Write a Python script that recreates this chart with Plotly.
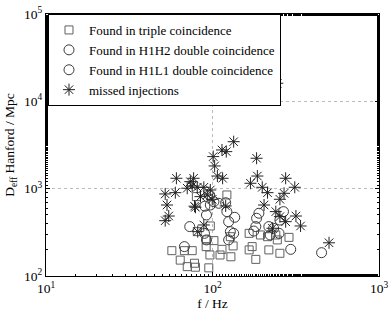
import plotly.graph_objects as go

# Found in triple coincidence (f [Hz], D_eff [Mpc])
triple_f = [57, 67.8, 75.5, 64, 70.5, 78, 79, 95, 96.5, 91.6, 102, 92, 114, 111, 129, 133, 128,
            97, 81, 122, 80, 166, 173, 166, 182, 194, 214, 218, 240, 245, 254, 288]
triple_d = [195, 195, 195, 152, 128, 140, 126, 124, 174, 217, 254, 259, 202, 174, 166, 221, 282,
            374, 322, 847, 811, 308, 217, 199, 155, 295, 282, 199, 295, 259, 182, 277]

# Found in H1H2 double coincidence
h1h2_f = [67.8, 73, 92, 97, 102, 96, 120, 125, 128, 125, 92, 190, 182, 218, 267, 251, 295]
h1h2_d = [217, 368, 500, 650, 710, 847, 690, 419, 322, 259, 259, 523, 368, 368, 546, 308, 202]

# Found in H1L1 double coincidence
h1l1_f = [90, 109, 122, 136, 134, 89.5, 184, 177, 233, 254, 222, 452]
h1l1_d = [630, 680, 546, 470, 308, 308, 458, 327, 352, 437, 295, 185]

# Missed injections
miss_f = [134, 114, 121, 101, 103, 107, 115, 184, 186, 169, 199, 214, 275, 312, 269, 254, 204,
          240, 254, 275, 317, 338, 229, 501, 60.7, 52, 59.8, 53.3, 54.6, 52, 73.6, 77, 75.5,
          70.5, 81, 88.7, 97, 93, 99.6, 84.7, 79, 78, 120, 88.7, 81.5, 245]
miss_d = [3450, 2775, 2655, 2330, 1820, 1395, 1315, 2230, 1395, 1153, 1037, 900, 1315, 1037, 885,
          756, 650, 546, 478, 419, 486, 374, 352, 240, 1315, 870, 900, 650, 486, 430, 1203, 1315,
          1074, 1012, 1037, 1037, 966, 847, 756, 811, 612, 630, 634, 384, 322, 16100]

x_ticks = [10, 100, 1000]
x_labels = ["10<sup>1</sup>", "10<sup>2</sup>", "10<sup>3</sup>"]
y_ticks = [100, 1000, 10000, 100000]
y_labels = ["10<sup>2</sup>", "10<sup>3</sup>", "10<sup>4</sup>", "10<sup>5</sup>"]

FONT = "Liberation Serif"

fig = go.Figure()
fig.add_trace(go.Scatter(x=triple_f, y=triple_d, mode="markers", name="Found in triple coincidence",
                         marker=dict(symbol="square-open", size=8, color="#606060", line=dict(width=1))))
fig.add_trace(go.Scatter(x=h1h2_f, y=h1h2_d, mode="markers", name="Found in H1H2 double coincidence",
                         marker=dict(symbol="circle-open", size=10, color="#3a3a3a", line=dict(width=1))))
fig.add_trace(go.Scatter(x=h1l1_f, y=h1l1_d, mode="markers", name="Found in H1L1 double coincidence",
                         marker=dict(symbol="circle-open", size=10, color="#3a3a3a", line=dict(width=1))))
fig.add_trace(go.Scatter(x=miss_f, y=miss_d, mode="markers", name="missed injections",
                         marker=dict(symbol="asterisk-open", size=10, color="#222222", line=dict(width=1))))

axis_common = dict(
    type="log", showline=True, linecolor="black", linewidth=1, mirror="allticks",
    ticks="inside", ticklen=4, tickcolor="black",
    showgrid=True, gridcolor="#bbbbbb", griddash="dot", gridwidth=1,
    zeroline=False, tickfont=dict(family=FONT, size=13.5, color="black"),
    minor=dict(ticks="inside", ticklen=2, tickcolor="black", showgrid=False),
    automargin=False,
)

fig.update_layout(
    width=390, height=312,
    margin=dict(l=46, r=11, t=14, b=36),
    plot_bgcolor="white", paper_bgcolor="white",
    font=dict(family=FONT, size=13.5, color="black"),
    showlegend=True,
    legend=dict(x=0.006, y=1.0, xanchor="left", yanchor="top",
                bordercolor="black", borderwidth=1, bgcolor="white",
                font=dict(family=FONT, size=13, color="black"),
                tracegroupgap=0, itemsizing="trace", itemwidth=30),
    xaxis=dict(axis_common, range=[1, 3], tickvals=x_ticks, ticktext=x_labels,
               title=dict(text="f / Hz", font=dict(family=FONT, size=13.5), standoff=0)),
    yaxis=dict(axis_common, range=[2, 5], tickvals=y_ticks, ticktext=y_labels,
               title=dict(text="D<sub>eff</sub> Hanford / Mpc", font=dict(family=FONT, size=13.5), standoff=6)),
)

fig.write_html("out.html", config={"displayModeBar": False},
               post_script="document.body.style.margin='0';")
